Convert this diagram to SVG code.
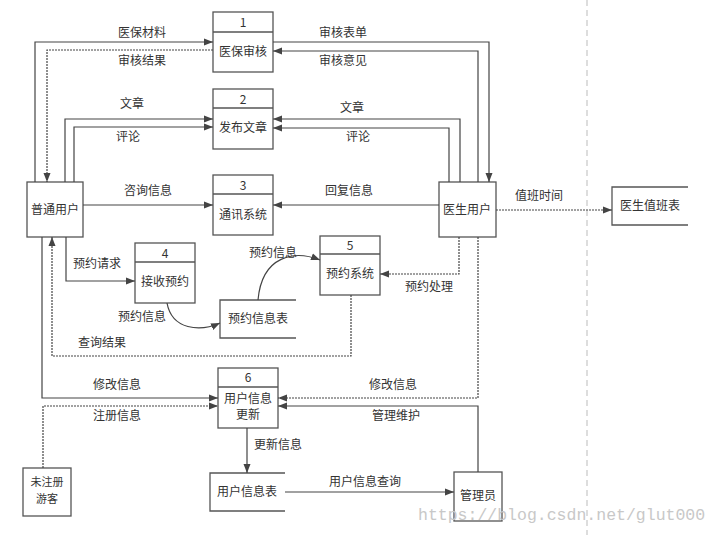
<svg xmlns="http://www.w3.org/2000/svg" width="720" height="535" viewBox="0 0 720 535">
<defs>
<marker id="ah" markerWidth="10" markerHeight="8" refX="9" refY="4" orient="auto" markerUnits="userSpaceOnUse">
<path d="M0,0.5 L9,4 L0,7.5 Z" fill="#444"/>
</marker>
<style>
.box{fill:#fff;stroke:#555;stroke-width:1.3}
.div{stroke:#555;stroke-width:1.3}
.st{fill:none;stroke:#555;stroke-width:1.3}
.t{font-family:"Noto Sans CJK SC","Liberation Sans",sans-serif;font-size:12px;fill:#333;text-anchor:middle}
.s{font-size:11px}
.c{fill:none;stroke:#444;stroke-width:1.2}
.d{stroke-dasharray:2,1}
</style>
</defs>
<rect width="720" height="535" fill="#fff"/>
<line x1="587" y1="0" x2="587" y2="535" stroke="#bbb" stroke-width="1" stroke-dasharray="6,4"/>

<g id="p1"><rect class="box" x="213" y="12" width="60" height="60"/><line class="div" x1="213" y1="32" x2="273" y2="32"/><text class="t" x="243" y="27">1</text><text class="t" x="243" y="56">医保审核</text></g>
<g id="p2"><rect class="box" x="213" y="89" width="60" height="60"/><line class="div" x1="213" y1="108" x2="273" y2="108"/><text class="t" x="243" y="104">2</text><text class="t" x="243" y="132">发布文章</text></g>
<g id="p3"><rect class="box" x="213" y="175" width="60" height="60"/><line class="div" x1="213" y1="194" x2="273" y2="194"/><text class="t" x="243" y="190">3</text><text class="t" x="243" y="219">通讯系统</text></g>
<g id="p4"><rect class="box" x="135" y="243" width="60" height="60"/><line class="div" x1="135" y1="262" x2="195" y2="262"/><text class="t" x="165" y="258">4</text><text class="t" x="165" y="286">接收预约</text></g>
<g id="p5"><rect class="box" x="320" y="236" width="60" height="59"/><line class="div" x1="320" y1="254" x2="380" y2="254"/><text class="t" x="350" y="250">5</text><text class="t" x="350" y="278">预约系统</text></g>
<g id="p6"><rect class="box" x="218" y="368" width="60" height="60"/><line class="div" x1="218" y1="387" x2="278" y2="387"/><text class="t" x="248" y="382">6</text><text class="t" x="248" y="403">用户信息</text><text class="t" x="248" y="419">更新</text></g>
<g id="user"><rect class="box" x="27" y="182" width="56" height="55"/><text class="t" x="55" y="214">普通用户</text></g>
<g id="doctor"><rect class="box" x="439" y="182" width="57" height="55"/><text class="t" x="467" y="214">医生用户</text></g>
<g id="visitor"><rect class="box" x="23" y="468" width="48" height="48"/><text class="t s" x="47" y="486">未注册</text><text class="t s" x="47" y="503">游客</text></g>
<g id="admin"><rect class="box" x="454" y="472" width="48" height="49"/><text class="t" x="478" y="500">管理员</text></g>
<g id="s-resv"><path class="st" d="M296,300 H220 V338 H296"/><text class="t" x="258" y="323">预约信息表</text></g>
<g id="s-duty"><path class="st" d="M688,187 H612 V225 H688"/><text class="t" x="650" y="210">医生值班表</text></g>
<g id="s-user"><path class="st" d="M285,473 H210 V511 H285"/><text class="t" x="247" y="496">用户信息表</text></g>

<g id="connectors">
<path class="c" d="M35,182 V42 H213" marker-end="url(#ah)"/>
<path class="c d" d="M213,50 H47 V182" marker-end="url(#ah)"/>
<path class="c" d="M65,182 V119 H213" marker-end="url(#ah)"/>
<path class="c" d="M74,182 V127 H213" marker-end="url(#ah)"/>
<path class="c" d="M273,42 H489 V182" marker-end="url(#ah)"/>
<path class="c" d="M478,182 V51 H273" marker-end="url(#ah)"/>
<path class="c" d="M460,182 V119 H273" marker-end="url(#ah)"/>
<path class="c" d="M449,182 V128 H273" marker-end="url(#ah)"/>
<path class="c" d="M83,205 H213" marker-end="url(#ah)"/>
<path class="c" d="M439,205 H273" marker-end="url(#ah)"/>
<path class="c d" d="M496,210 H612" marker-end="url(#ah)"/>
<path class="c" d="M66,237 V281 H135" marker-end="url(#ah)"/>
<path class="c" d="M167,303 C172,330 200,332 220,323" marker-end="url(#ah)"/>
<path class="c" d="M258,300 C262,255 295,250 320,260" marker-end="url(#ah)"/>
<path class="c d" d="M459,237 V274 H380" marker-end="url(#ah)"/>
<path class="c d" d="M351,295 V356 H52 V237" marker-end="url(#ah)"/>
<path class="c" d="M42,237 V398 H218" marker-end="url(#ah)"/>
<path class="c d" d="M43,468 V406 H218" marker-end="url(#ah)"/>
<path class="c d" d="M478,237 V398 H278" marker-end="url(#ah)"/>
<path class="c" d="M478,472 V406 H278" marker-end="url(#ah)"/>
<path class="c" d="M247,428 V473" marker-end="url(#ah)"/>
<path class="c" d="M285,492 H454" marker-end="url(#ah)"/>
</g>

<g id="labels">
<text class="t" x="142" y="37">医保材料</text>
<text class="t" x="142" y="65">审核结果</text>
<text class="t" x="343" y="37">审核表单</text>
<text class="t" x="343" y="65">审核意见</text>
<text class="t" x="132" y="108">文章</text>
<text class="t" x="128" y="141">评论</text>
<text class="t" x="352" y="112">文章</text>
<text class="t" x="358" y="141">评论</text>
<text class="t" x="148" y="195">咨询信息</text>
<text class="t" x="349" y="195">回复信息</text>
<text class="t" x="539" y="200">值班时间</text>
<text class="t" x="97" y="268">预约请求</text>
<text class="t" x="142" y="321">预约信息</text>
<text class="t" x="273" y="257">预约信息</text>
<text class="t" x="429" y="291">预约处理</text>
<text class="t" x="102" y="347">查询结果</text>
<text class="t" x="117" y="389">修改信息</text>
<text class="t" x="117" y="420">注册信息</text>
<text class="t" x="393" y="389">修改信息</text>
<text class="t" x="396" y="420">管理维护</text>
<text class="t" x="278" y="449">更新信息</text>
<text class="t" x="365" y="486">用户信息查询</text>
</g>
<text x="418" y="520" font-family="Liberation Mono, monospace" font-size="16.5" fill="#c8c8c8">https://blog.csdn.net/glut000</text>
</svg>
